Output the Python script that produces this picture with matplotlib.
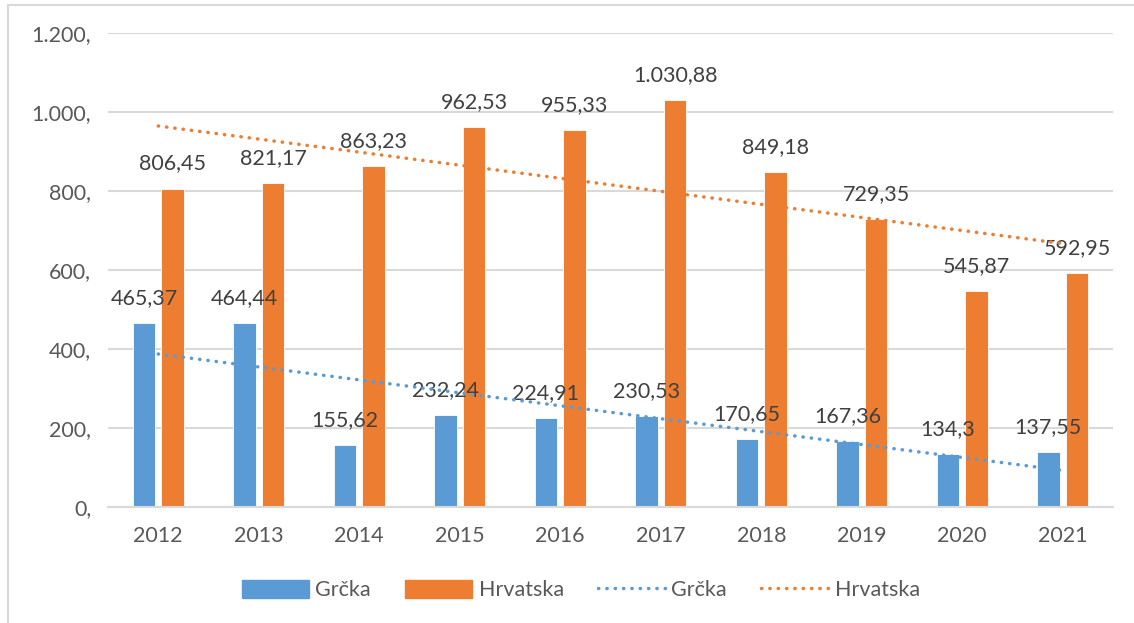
"""Grčka vs Hrvatska bar chart with dotted linear trend lines."""

import matplotlib.pyplot as plt
import numpy as np
from matplotlib.patches import Rectangle
from matplotlib.lines import Line2D

YEARS   = ['2012', '2013', '2014', '2015', '2016', '2017', '2018', '2019', '2020', '2021']
GRCKA   = [465.37, 464.44, 155.62, 232.24, 224.91, 230.53, 170.65, 167.36, 134.3, 137.55]
HRV     = [806.45, 821.17, 863.23, 962.53, 955.33, 1030.88, 849.18, 729.35, 545.87, 592.95]
GRCKA_LABELS = ['465,37', '464,44', '155,62', '232,24', '224,91', '230,53',
                '170,65', '167,36', '134,3', '137,55']
HRV_LABELS   = ['806,45', '821,17', '863,23', '962,53', '955,33', '1.030,88',
                '849,18', '729,35', '545,87', '592,95']
# trend line end values (first and last year)
GRCKA_TREND = [387, 92]
HRV_TREND   = [965, 667]
Y_TICKS  = [0, 200, 400, 600, 800, 1000, 1200]
Y_LABELS = ['0,', '200,', '400,', '600,', '800,', '1.000,', '1.200,']

BLUE   = '#5B9BD5'
ORANGE = '#ED7D31'
GRID   = '#D9D9D9'
TXT    = '#595959'
LBL    = '#404040'

plt.rcParams.update({
    'font.family': ['Lato', 'DejaVu Sans'],
    'font.size': 15.5,
})

fig = plt.figure(figsize=(11.34, 6.23), dpi=100)
ax = fig.add_axes([108 / 1134, 1 - 506.7 / 623, 1005 / 1134, 473.4 / 623])

x = np.arange(len(YEARS))
w, off = 0.225, 0.143
ax.bar(x - off, GRCKA, w, color=BLUE, edgecolor='white', linewidth=0.6, zorder=2)
ax.bar(x + off, HRV, w, color=ORANGE, edgecolor='white', linewidth=0.6, zorder=2)

for xi, v, s in zip(x - off, GRCKA, GRCKA_LABELS):
    ax.annotate(s, (xi, v), xytext=(0, 18), textcoords='offset points',
                ha='center', va='center', color=LBL, fontsize=15.5, zorder=3)
for xi, v, s in zip(x + off, HRV, HRV_LABELS):
    ax.annotate(s, (xi, v), xytext=(0, 18), textcoords='offset points',
                ha='center', va='center', color=LBL, fontsize=15.5, zorder=3)

dot = dict(linestyle=(0, (0.1, 2.3)), dash_capstyle='round', linewidth=2.5, zorder=4)
ax.plot([x[0], x[-1]], GRCKA_TREND, color=BLUE, **dot)
ax.plot([x[0], x[-1]], HRV_TREND, color=ORANGE, **dot)

ax.set_xlim(-0.5, len(YEARS) - 0.5)
ax.set_ylim(0, 1200)
ax.set_yticks(Y_TICKS)
ax.set_yticklabels(Y_LABELS)
ax.set_xticks(x)
ax.set_xticklabels(YEARS)
ax.tick_params(length=0, colors=TXT, labelsize=15.5)
ax.tick_params(axis='x', pad=14)
ax.tick_params(axis='y', pad=12)
ax.grid(axis='y', color=GRID, linewidth=1.5, zorder=0)
ax.set_axisbelow(True)
for side in ('top', 'right', 'left'):
    ax.spines[side].set_visible(False)
ax.spines['bottom'].set_color(GRID)
ax.spines['bottom'].set_linewidth(1.5)

handles = [
    Rectangle((0, 0), 1, 1, color=BLUE),
    Rectangle((0, 0), 1, 1, color=ORANGE),
    Line2D([], [], color=BLUE, **dot),
    Line2D([], [], color=ORANGE, **dot),
]
fig.legend(handles, ['Grčka', 'Hrvatska', 'Grčka', 'Hrvatska'],
           loc='center', bbox_to_anchor=(581 / 1134, 1 - 590 / 623), ncol=4,
           frameon=False, handlelength=3.1, handleheight=0.95, handletextpad=0.3,
           columnspacing=1.6, labelcolor=TXT, fontsize=15.5)

# light chart-area border (runs off the right and bottom edge)
fig.patches.append(Rectangle((8 / 1134, -0.05), 1.1, 1.05 - 5 / 623,
                             transform=fig.transFigure, fill=False,
                             edgecolor=GRID, linewidth=1.5))

fig.savefig('out.png', dpi=100)
